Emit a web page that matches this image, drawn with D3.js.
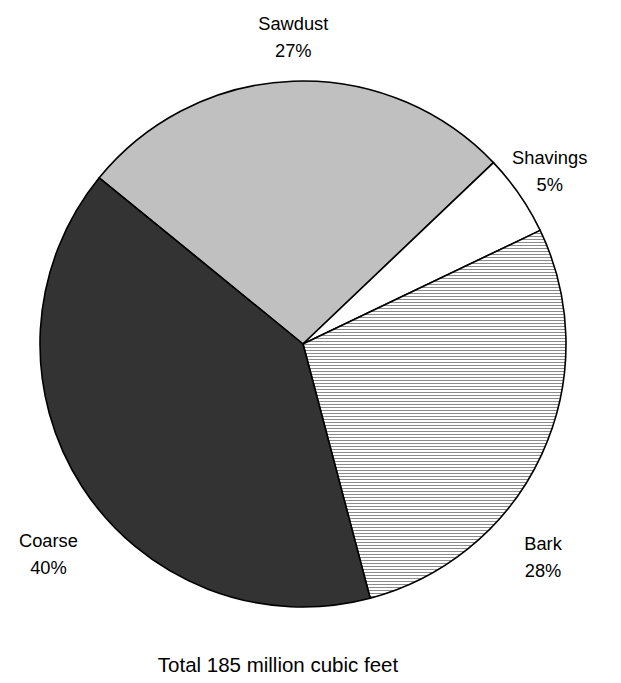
<!DOCTYPE html>
<html>
<head>
<meta charset="utf-8">
<script src="https://cdn.jsdelivr.net/npm/d3@7"></script>
<style>
  html, body { margin: 0; padding: 0; background: #fff; }
  svg { display: block; }
  text { font-family: "Liberation Sans", Arial, sans-serif; fill: #000; }
</style>
</head>
<body>
<svg id="chart" width="621" height="683"></svg>
<script>
// ---- data ----
const categories = ["Sawdust", "Shavings", "Bark", "Coarse"];
const percents = [27, 5, 28, 40];
const totalLabel = "Total 185 million cubic feet";

// ---- layout ----
const W = 621, H = 683;
const cx = 303, cy = 344, R = 263;
const startDeg = -50.8;
const fills = { Sawdust: "#c0c0c0", Shavings: "#ffffff", Bark: "url(#hatch)", Coarse: "#333333" };
// label anchors (polar: degrees clockwise from north, radius from centre)
const labelPolar = { Sawdust: [-1.8, 310], Shavings: [54.5, 303], Bark: [131.2, 319], Coarse: [230.9, 328] };

const svg = d3.select("#chart");
const defs = svg.append("defs");
const pat = defs.append("pattern")
  .attr("id", "hatch").attr("patternUnits", "userSpaceOnUse")
  .attr("width", 8).attr("height", 3);
pat.append("rect").attr("width", 8).attr("height", 3).attr("fill", "#fff");
pat.append("rect").attr("y", 0).attr("width", 8).attr("height", 1).attr("fill", "#8c8c8c");

const data = categories.map((c, i) => ({ name: c, value: percents[i] }));
const rad = d => d * Math.PI / 180;
const pie = d3.pie().value(d => d.value).sort(null)
  .startAngle(rad(startDeg)).endAngle(rad(startDeg + 360));
const arc = d3.arc().innerRadius(0).outerRadius(R);

const g = svg.append("g").attr("transform", `translate(${cx},${cy})`);
g.selectAll("path.slice").data(pie(data)).join("path")
  .attr("class", "slice")
  .attr("d", arc)
  .attr("fill", d => fills[d.data.name])
  .attr("stroke", "#000")
  .attr("stroke-width", 1.6)
  .attr("stroke-linejoin", "round");

const lbl = g.selectAll("text.lbl").data(data).join("text")
  .attr("class", "lbl")
  .attr("text-anchor", "middle")
  .attr("font-size", 18.3)
  .attr("transform", d => {
    const [a, r] = labelPolar[d.name];
    const x = r * Math.sin(rad(a)), y = -r * Math.cos(rad(a));
    return `translate(${x},${y})`;
  });
lbl.append("tspan").attr("x", 0).attr("dy", -4).text(d => d.name);
lbl.append("tspan").attr("x", 0).attr("dy", 27).text(d => d.value + "%");

svg.append("text")
  .attr("x", 278).attr("y", 672)
  .attr("text-anchor", "middle")
  .attr("font-size", 20.5)
  .text(totalLabel);
</script>
</body>
</html>
